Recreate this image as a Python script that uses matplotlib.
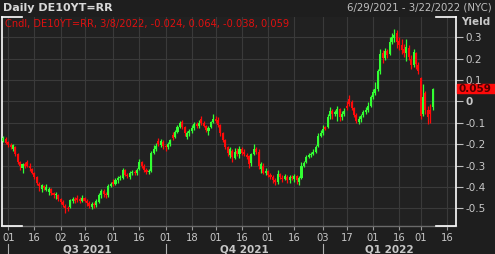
"""
Daily DE10YT=RR candlestick chart (dark terminal style).
"""

import numpy as np
import pandas as pd
import matplotlib
matplotlib.use("Agg")
import matplotlib.pyplot as plt
import matplotlib.transforms as mtransforms
from matplotlib.patches import Rectangle


# -------------------------------------------------
# Data (one row = 10 trading days)
# -------------------------------------------------
start_date = "2021-06-29"
end_date = "2022-03-22"

opens = [
    -0.185, -0.175, -0.190, -0.205, -0.225, -0.215, -0.245, -0.285, -0.310, -0.295,
    -0.285, -0.300, -0.315, -0.335, -0.355, -0.385, -0.410, -0.395, -0.415, -0.425,
    -0.410, -0.430, -0.440, -0.440, -0.455, -0.470, -0.490, -0.500, -0.495, -0.465,
    -0.455, -0.450, -0.455, -0.465, -0.450, -0.465, -0.475, -0.495, -0.480, -0.485,
    -0.470, -0.440, -0.420, -0.435, -0.440, -0.395, -0.375, -0.385, -0.370, -0.360,
    -0.360, -0.320, -0.345, -0.355, -0.335, -0.330, -0.335, -0.315, -0.285, -0.300,
    -0.320, -0.330, -0.325, -0.240, -0.225, -0.185, -0.205, -0.190, -0.210, -0.215,
    -0.200, -0.155, -0.165, -0.145, -0.120, -0.095, -0.120, -0.165, -0.150, -0.140,
    -0.125, -0.105, -0.115, -0.080, -0.100, -0.115, -0.140, -0.120, -0.095, -0.080,
    -0.085, -0.110, -0.150, -0.180, -0.215, -0.250, -0.230, -0.265, -0.230, -0.245,
    -0.225, -0.235, -0.250, -0.255, -0.290, -0.245, -0.225, -0.235, -0.315, -0.300,
    -0.335, -0.325, -0.345, -0.355, -0.370, -0.375, -0.340, -0.360, -0.365, -0.355,
    -0.370, -0.355, -0.365, -0.350, -0.375, -0.360, -0.300, -0.285, -0.260, -0.250,
    -0.245, -0.235, -0.210, -0.160, -0.150, -0.120, -0.120, -0.070, -0.045, -0.060,
    -0.060, -0.035, -0.075, -0.060, -0.020, 0.010, -0.005, -0.030, -0.065, -0.095,
    -0.080, -0.065, -0.050, -0.040, -0.020, 0.020, 0.040, 0.060, 0.140, 0.225,
    0.205, 0.235, 0.220, 0.280, 0.295, 0.320, 0.285, 0.265, 0.245, 0.225,
    0.250, 0.200, 0.170, 0.225, 0.170, 0.110, -0.060, 0.040, -0.040, -0.040,
    -0.024,
]

highs = [
    -0.160, -0.168, -0.185, -0.195, -0.200, -0.210, -0.240, -0.280, -0.290, -0.285,
    -0.275, -0.290, -0.310, -0.330, -0.350, -0.375, -0.385, -0.390, -0.385, -0.400,
    -0.405, -0.425, -0.425, -0.435, -0.450, -0.462, -0.480, -0.490, -0.455, -0.445,
    -0.445, -0.440, -0.445, -0.440, -0.445, -0.455, -0.465, -0.470, -0.470, -0.455,
    -0.430, -0.410, -0.410, -0.425, -0.385, -0.375, -0.365, -0.360, -0.350, -0.345,
    -0.310, -0.315, -0.335, -0.325, -0.320, -0.320, -0.310, -0.270, -0.278, -0.295,
    -0.310, -0.315, -0.230, -0.205, -0.195, -0.170, -0.175, -0.180, -0.200, -0.190,
    -0.175, -0.145, -0.135, -0.110, -0.090, -0.085, -0.115, -0.140, -0.130, -0.110,
    -0.095, -0.095, -0.085, -0.070, -0.090, -0.110, -0.115, -0.090, -0.060, -0.070,
    -0.075, -0.105, -0.145, -0.175, -0.210, -0.215, -0.225, -0.220, -0.220, -0.210,
    -0.215, -0.225, -0.240, -0.250, -0.240, -0.200, -0.215, -0.225, -0.285, -0.290,
    -0.310, -0.320, -0.335, -0.345, -0.360, -0.320, -0.335, -0.345, -0.340, -0.345,
    -0.345, -0.345, -0.340, -0.345, -0.350, -0.285, -0.280, -0.250, -0.240, -0.235,
    -0.225, -0.205, -0.150, -0.135, -0.110, -0.115, -0.060, -0.025, -0.035, -0.040,
    -0.020, -0.030, -0.045, -0.030, 0.000, 0.030, 0.005, -0.025, -0.055, -0.070,
    -0.060, -0.040, -0.025, -0.005, 0.030, 0.060, 0.090, 0.150, 0.245, 0.240,
    0.250, 0.245, 0.300, 0.320, 0.340, 0.335, 0.300, 0.290, 0.270, 0.290,
    0.265, 0.215, 0.245, 0.230, 0.185, 0.115, 0.080, 0.050, -0.020, -0.010,
    0.064,
]

lows = [
    -0.190, -0.200, -0.215, -0.225, -0.232, -0.255, -0.292, -0.320, -0.335, -0.310,
    -0.305, -0.325, -0.340, -0.365, -0.390, -0.420, -0.425, -0.415, -0.420, -0.440,
    -0.440, -0.450, -0.455, -0.465, -0.480, -0.495, -0.520, -0.515, -0.500, -0.475,
    -0.475, -0.470, -0.475, -0.470, -0.470, -0.490, -0.500, -0.505, -0.500, -0.495,
    -0.475, -0.450, -0.445, -0.450, -0.445, -0.400, -0.395, -0.390, -0.380, -0.370,
    -0.365, -0.350, -0.360, -0.365, -0.345, -0.345, -0.345, -0.320, -0.310, -0.330,
    -0.340, -0.340, -0.330, -0.245, -0.230, -0.210, -0.215, -0.225, -0.230, -0.225,
    -0.210, -0.180, -0.170, -0.150, -0.125, -0.130, -0.160, -0.175, -0.160, -0.150,
    -0.135, -0.125, -0.125, -0.110, -0.120, -0.145, -0.155, -0.125, -0.100, -0.100,
    -0.120, -0.160, -0.190, -0.225, -0.255, -0.265, -0.285, -0.270, -0.255, -0.265,
    -0.250, -0.255, -0.270, -0.310, -0.300, -0.250, -0.245, -0.315, -0.335, -0.340,
    -0.345, -0.355, -0.365, -0.380, -0.390, -0.385, -0.365, -0.375, -0.370, -0.380,
    -0.380, -0.370, -0.375, -0.385, -0.390, -0.365, -0.305, -0.290, -0.265, -0.258,
    -0.250, -0.240, -0.215, -0.165, -0.155, -0.135, -0.125, -0.080, -0.080, -0.070,
    -0.090, -0.090, -0.085, -0.070, -0.040, -0.020, -0.040, -0.075, -0.100, -0.105,
    -0.095, -0.075, -0.060, -0.050, -0.025, 0.010, 0.030, 0.050, 0.130, 0.180,
    0.195, 0.205, 0.215, 0.270, 0.280, 0.250, 0.240, 0.220, 0.210, 0.190,
    0.195, 0.150, 0.160, 0.150, 0.130, -0.080, -0.070, -0.060, -0.105, -0.100,
    -0.038,
]

closes = [
    -0.170, -0.195, -0.205, -0.215, -0.205, -0.245, -0.285, -0.300, -0.295, -0.300,
    -0.300, -0.310, -0.335, -0.355, -0.380, -0.395, -0.390, -0.405, -0.400, -0.410,
    -0.430, -0.440, -0.435, -0.455, -0.470, -0.485, -0.500, -0.505, -0.460, -0.455,
    -0.465, -0.460, -0.465, -0.450, -0.465, -0.475, -0.490, -0.480, -0.485, -0.465,
    -0.440, -0.420, -0.435, -0.440, -0.395, -0.385, -0.385, -0.370, -0.360, -0.355,
    -0.320, -0.345, -0.350, -0.335, -0.330, -0.335, -0.320, -0.285, -0.300, -0.320,
    -0.330, -0.325, -0.240, -0.225, -0.210, -0.200, -0.185, -0.210, -0.215, -0.200,
    -0.180, -0.170, -0.145, -0.120, -0.100, -0.120, -0.150, -0.150, -0.140, -0.125,
    -0.105, -0.115, -0.100, -0.100, -0.115, -0.135, -0.125, -0.095, -0.080, -0.090,
    -0.110, -0.150, -0.180, -0.215, -0.240, -0.225, -0.260, -0.235, -0.245, -0.225,
    -0.240, -0.245, -0.260, -0.295, -0.245, -0.225, -0.235, -0.300, -0.295, -0.335,
    -0.325, -0.345, -0.355, -0.370, -0.375, -0.340, -0.355, -0.365, -0.350, -0.370,
    -0.355, -0.360, -0.350, -0.370, -0.360, -0.300, -0.290, -0.260, -0.250, -0.245,
    -0.235, -0.215, -0.160, -0.150, -0.130, -0.130, -0.075, -0.045, -0.060, -0.050,
    -0.035, -0.075, -0.060, -0.045, -0.030, -0.010, -0.030, -0.065, -0.090, -0.080,
    -0.070, -0.050, -0.040, -0.020, 0.020, 0.045, 0.060, 0.140, 0.220, 0.205,
    0.235, 0.215, 0.280, 0.300, 0.310, 0.280, 0.265, 0.240, 0.225, 0.255,
    0.210, 0.170, 0.230, 0.175, 0.140, -0.070, 0.020, -0.040, -0.075, -0.060,
    0.059,
]

tick_dates = [
    "2021-07-01", "2021-07-16", "2021-08-02", "2021-08-16", "2021-09-01", "2021-09-16",
    "2021-10-01", "2021-10-18", "2021-11-01", "2021-11-16", "2021-12-01", "2021-12-16",
    "2022-01-03", "2022-01-17", "2022-02-01", "2022-02-16", "2022-03-01", "2022-03-16",
]
quarter_starts = ["2021-07-01", "2021-10-01", "2022-01-03"]
quarter_labels = ["Q3 2021", "Q4 2021", "Q1 2022"]
y_ticks = [0.3, 0.2, 0.1, 0.0, -0.1, -0.2, -0.3, -0.4, -0.5]
y_tick_labels = ["0.3", "0.2", "0.1", "0", "-0.1", "-0.2", "-0.3", "-0.4", "-0.5"]
last_ohlc = [-0.024, 0.064, -0.038, 0.059]

# colours
BG = "#1e1e1e"
AX_BG = "#212121"
GRID = "#3a3a3a"
TEXT = "#c8c8c8"
UP = "#33ff33"
DOWN = "#ff0a0a"


def main():
    days = pd.bdate_range(start_date, end_date)
    idx = np.arange(len(closes))
    o = np.array(opens)
    h = np.array(highs)
    l = np.array(lows)
    c = np.array(closes)

    fig = plt.figure(figsize=(4.95, 2.54), dpi=100, facecolor=BG)
    ax = fig.add_axes([2 / 495, 28 / 254, 454 / 495, 209 / 254], facecolor=AX_BG)

    # candles
    colors = np.where(c >= o, UP, DOWN)
    ax.vlines(idx, l, h, colors=colors, lw=0.9, zorder=3)
    body = np.maximum(np.abs(c - o), 0.004)
    ax.bar(idx, body, bottom=np.minimum(o, c), width=0.85, color=colors,
           lw=0, zorder=4)

    ax.set_xlim(-0.6, 189.8)
    ax.set_ylim(-0.583, 0.395)

    # x axis: day numbers
    tick_pos = [days.get_loc(pd.Timestamp(d)) for d in tick_dates]
    ax.set_xticks(tick_pos)
    ax.set_xticklabels([pd.Timestamp(d).strftime("%d") for d in tick_dates])
    ax.tick_params(axis="x", direction="out", length=3, width=0.8, color="#9a9a9a",
                   labelcolor=TEXT, labelsize=7.2, pad=2)

    # y axis on the right
    ax.yaxis.tick_right()
    ax.set_yticks(y_ticks)
    ax.set_yticklabels(y_tick_labels)
    ax.tick_params(axis="y", direction="out", length=5, width=0.8, color="#bdbdbd",
                   labelcolor=TEXT, labelsize=7.5, pad=2)
    for lbl in ax.get_yticklabels():
        if lbl.get_text() == "0":
            lbl.set_fontweight("bold")

    ax.grid(True, color=GRID, lw=0.8, zorder=0)
    ax.set_axisbelow(True)

    # frame: white sides, grey bottom, white corner pieces
    for side in ["top", "bottom"]:
        ax.spines[side].set_visible(False)
    for side in ["left", "right"]:
        ax.spines[side].set_color("white")
        ax.spines[side].set_linewidth(1.2)
    ax.plot([0, 1], [0, 0], transform=ax.transAxes, color="#6a6a6a", lw=1.0,
            clip_on=False, zorder=5)
    corner = 20 / 454
    for x0, x1 in [(0, corner), (1 - corner, 1)]:
        for yy in [0, 1]:
            ax.plot([x0, x1], [yy, yy], transform=ax.transAxes, color="white",
                    lw=1.2, clip_on=False, zorder=6)

    # quarter labels + separators
    trans = mtransforms.blended_transform_factory(ax.transData, ax.transAxes)
    q_pos = [days.get_loc(pd.Timestamp(d)) for d in quarter_starts]
    q_bounds = q_pos + [ax.get_xlim()[1]]
    for i, lab in enumerate(quarter_labels):
        ax.plot([q_pos[i], q_pos[i]], [-0.085, -0.14], transform=trans,
                color="#b0b0b0", lw=0.8, clip_on=False)
        ax.text((q_bounds[i] + q_bounds[i + 1]) / 2, -0.112, lab, transform=trans,
                ha="center", va="center", color=TEXT, fontsize=7.5,
                fontweight="bold")

    # last value marker on the y axis
    ytrans = mtransforms.blended_transform_factory(ax.transAxes, ax.transData)
    ax.add_patch(Rectangle((1.002, last_ohlc[3] - 0.021), 0.085, 0.042,
                           transform=ytrans, color="#ff0a0a", clip_on=False,
                           zorder=7))
    ax.text(1.006, last_ohlc[3], f"{last_ohlc[3]:.3f}", transform=ytrans,
            ha="left", va="center", color="#500000", fontsize=7.5,
            fontweight="bold", zorder=8)

    # titles / legend
    fig.text(0.006, 1 - 8 / 254, "Daily DE10YT=RR", ha="left", va="center",
             color="#d8d8d8", fontsize=8, fontweight="bold")
    fig.text(0.994, 1 - 8 / 254, "6/29/2021 - 3/22/2022 (NYC)", ha="right",
             va="center", color="#c0c0c0", fontsize=7.3)
    legend = "Cndl, DE10YT=RR, 3/8/2022, " + ", ".join(f"{v:.3f}" for v in last_ohlc)
    fig.text(5 / 495, 1 - 24 / 254, legend, ha="left", va="center",
             color="#e01010", fontsize=7.1)
    fig.text(476 / 495, 1 - 22 / 254, "Yield", ha="center", va="center",
             color=TEXT, fontsize=7.5, fontweight="bold")

    fig.savefig("out.png", dpi=100, facecolor=fig.get_facecolor())
    plt.close(fig)


if __name__ == "__main__":
    main()
